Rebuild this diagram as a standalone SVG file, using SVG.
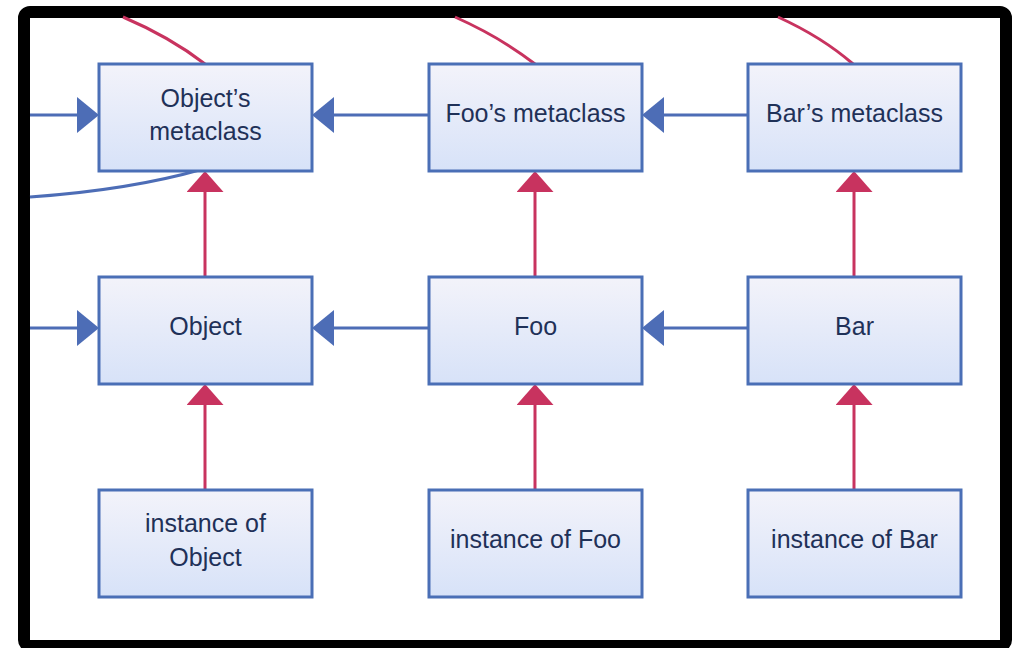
<svg xmlns="http://www.w3.org/2000/svg" width="1023" height="648" viewBox="0 0 1023 648">
  <defs>
    <linearGradient id="boxFill" x1="0" y1="0" x2="0" y2="1">
      <stop offset="0" stop-color="#f3f3fa"/>
      <stop offset="1" stop-color="#d7e2f8"/>
    </linearGradient>
    <marker id="headBlue" viewBox="0 0 22 36" refX="0" refY="18" markerWidth="22" markerHeight="36" markerUnits="userSpaceOnUse" orient="auto">
      <path d="M0,0 L22,18 L0,36 Z" fill="#4d6db6"/>
    </marker>
    <marker id="headRed" viewBox="0 0 21 37" refX="0" refY="18.5" markerWidth="21" markerHeight="37" markerUnits="userSpaceOnUse" orient="auto">
      <path d="M0,0 L21,18.5 L0,37 Z" fill="#c8335f"/>
    </marker>
  </defs>
  <style>
    .box { fill: url(#boxFill); stroke: #4a6fb6; stroke-width: 3; }
    .label { font-family: "Liberation Sans", Arial, sans-serif; font-size: 25px; fill: #1f3158; text-anchor: middle; }
    .inherit { fill: none; stroke: #4d6db6; stroke-width: 3; }
    .instance { fill: none; stroke: #c8335f; stroke-width: 3; }
  </style>

  <!-- page frame -->
  <rect x="24" y="12" width="982" height="634" rx="6" fill="#ffffff" stroke="#000000" stroke-width="12"/>

  <!-- connectors -->
  <g id="connectors">
    <!-- subclass links (blue) -->
    <path class="inherit" d="M30,115 L77,115" marker-end="url(#headBlue)"/>
    <path class="inherit" d="M429,115 L334,115" marker-end="url(#headBlue)"/>
    <path class="inherit" d="M748,115 L664,115" marker-end="url(#headBlue)"/>
    <path class="inherit" d="M30,328 L77,328" marker-end="url(#headBlue)"/>
    <path class="inherit" d="M429,328 L334,328" marker-end="url(#headBlue)"/>
    <path class="inherit" d="M748,328 L664,328" marker-end="url(#headBlue)"/>
    <path class="inherit" d="M30,197 Q130,190 203,169"/>
    <!-- instance-of links (red) -->
    <path class="instance" d="M205,277 L205,192" marker-end="url(#headRed)"/>
    <path class="instance" d="M535,277 L535,192" marker-end="url(#headRed)"/>
    <path class="instance" d="M854,277 L854,192" marker-end="url(#headRed)"/>
    <path class="instance" d="M205,490 L205,405" marker-end="url(#headRed)"/>
    <path class="instance" d="M535,490 L535,405" marker-end="url(#headRed)"/>
    <path class="instance" d="M854,490 L854,405" marker-end="url(#headRed)"/>
    <path class="instance" d="M123,17 Q170,37 205,64"/>
    <path class="instance" d="M455,17 Q500,37 535,64"/>
    <path class="instance" d="M778,17 Q822,37 853,64"/>
  </g>

  <!-- metaclass row -->
  <g id="object-metaclass">
    <rect class="box" x="99" y="64" width="213" height="107"/>
    <text class="label" x="205.5" y="107">Object’s</text>
    <text class="label" x="205.5" y="140">metaclass</text>
  </g>
  <g id="foo-metaclass">
    <rect class="box" x="429" y="64" width="213" height="107"/>
    <text class="label" x="535.5" y="122">Foo’s metaclass</text>
  </g>
  <g id="bar-metaclass">
    <rect class="box" x="748" y="64" width="213" height="107"/>
    <text class="label" x="854.5" y="122">Bar’s metaclass</text>
  </g>

  <!-- class row -->
  <g id="object">
    <rect class="box" x="99" y="277" width="213" height="107"/>
    <text class="label" x="205.5" y="335">Object</text>
  </g>
  <g id="foo">
    <rect class="box" x="429" y="277" width="213" height="107"/>
    <text class="label" x="535.5" y="335">Foo</text>
  </g>
  <g id="bar">
    <rect class="box" x="748" y="277" width="213" height="107"/>
    <text class="label" x="854.5" y="335">Bar</text>
  </g>

  <!-- instance row -->
  <g id="instance-of-object">
    <rect class="box" x="99" y="490" width="213" height="107"/>
    <text class="label" x="205.5" y="532">instance of</text>
    <text class="label" x="205.5" y="566">Object</text>
  </g>
  <g id="instance-of-foo">
    <rect class="box" x="429" y="490" width="213" height="107"/>
    <text class="label" x="535.5" y="548">instance of Foo</text>
  </g>
  <g id="instance-of-bar">
    <rect class="box" x="748" y="490" width="213" height="107"/>
    <text class="label" x="854.5" y="548">instance of Bar</text>
  </g>
</svg>
